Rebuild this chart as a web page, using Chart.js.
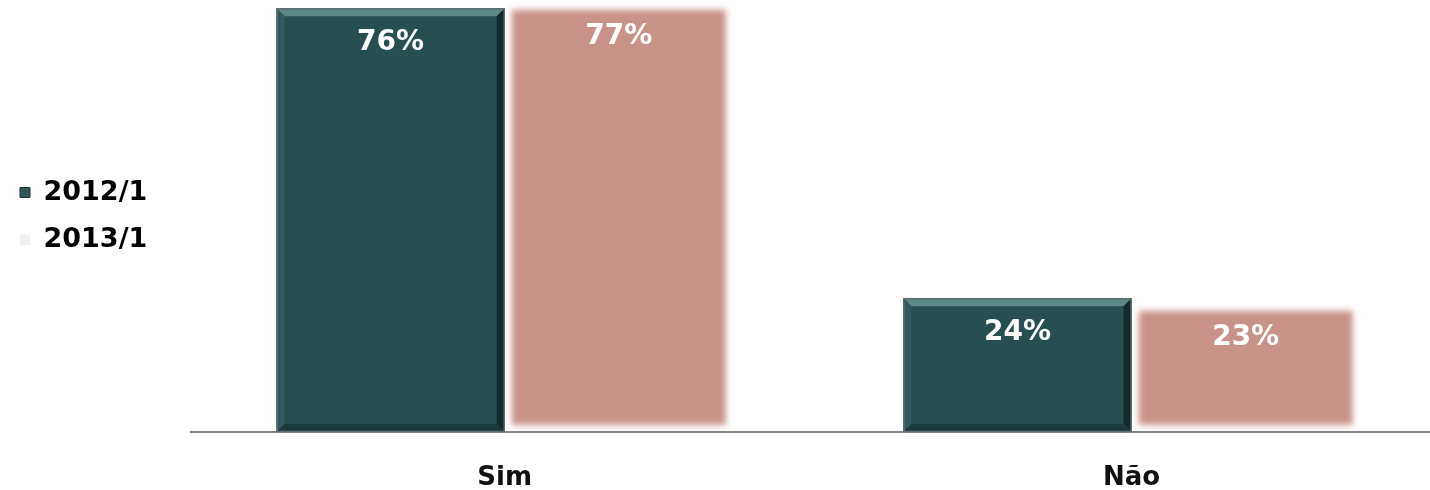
<!DOCTYPE html>
<html>
<head>
<meta charset="utf-8">
<script src="https://cdn.jsdelivr.net/npm/chart.js@4"></script>
<style>
html,body{margin:0;padding:0;background:#fff;overflow:hidden;}
#wrap{width:1445px;height:490px;}
</style>
</head>
<body>
<div id="wrap"><canvas id="chart"></canvas></div>
<script>
// data
const categories=["Sim","Não"];
const seriesNames=["2012/1","2013/1"];
const values2012=[76,24];
const values2013=[77,23];

const DARK="#264f52";
const PINK="#c99289";
const FONT="'DejaVu Sans', Verdana, sans-serif";

function poly(ctx,pts,color){
ctx.beginPath();
ctx.moveTo(pts[0][0],pts[0][1]);
for(let i=1;i<pts.length;i++) ctx.lineTo(pts[i][0],pts[i][1]);
ctx.closePath();
ctx.fillStyle=color;
ctx.fill();
}

// bevel on the dark bars, soft edges on the pink ones, value labels
const barFx={
id:"barFx",
beforeDatasetDraw(chart,args){
if(args.index===1){chart.ctx.save();chart.ctx.filter="blur(3px)";}
},
afterDatasetDraw(chart,args){
const ctx=chart.ctx;
if(args.index===1){ctx.restore();return;}
if(args.index!==0) return;
args.meta.data.forEach(b=>{
const l=b.x-b.width/2,r=b.x+b.width/2,t=b.y,bt=b.base,d=8;
ctx.save();
poly(ctx,[[l,t],[r,t],[r-d,t+d],[l+d,t+d]],"#5c8886");
poly(ctx,[[l,t],[l+d,t+d],[l+d,bt-d],[l,bt]],"#2f5b5c");
poly(ctx,[[r,t],[r,bt],[r-d,bt-d],[r-d,t+d]],"#132a2b");
poly(ctx,[[l,bt],[l+d,bt-d],[r-d,bt-d],[r,bt]],"#1b3a3c");
ctx.strokeStyle="#5f6f6f";
ctx.lineWidth=1.5;
ctx.strokeRect(l+0.5,t+0.5,b.width-1,bt-t-1);
ctx.restore();
});
},
afterDatasetsDraw(chart){
const ctx=chart.ctx;
ctx.save();
ctx.fillStyle="#ffffff";
ctx.font="bold 28px "+FONT;
ctx.textAlign="center";
ctx.textBaseline="middle";
chart.data.datasets.forEach((ds,i)=>{
chart.getDatasetMeta(i).data.forEach((b,j)=>{
ctx.fillText(ds.data[j]+"%",b.x,b.y+34);
});
});
ctx.restore();
}
};

new Chart(document.getElementById("chart"),{
type:"bar",
data:{
labels:categories,
datasets:[
{label:seriesNames[0],data:values2012,backgroundColor:DARK,borderWidth:0,categoryPercentage:0.728,barPercentage:1},
{label:seriesNames[1],data:values2013,backgroundColor:PINK,borderColor:"rgba(0,0,0,0)",borderWidth:7,borderSkipped:false,categoryPercentage:0.728,barPercentage:1}
]
},
options:{
responsive:true,
maintainAspectRatio:false,
animation:false,
layout:{padding:0},
plugins:{
tooltip:{enabled:false},
legend:{
position:"left",
fullSize:false,
labels:{
color:"#111",
font:{family:FONT,size:27,weight:"bold"},
boxWidth:10,boxHeight:10,padding:20,
generateLabels(chart){
return seriesNames.map((n,i)=>({
text:n,
fillStyle:i===0?"#2f5557":"#f2f2f2",
strokeStyle:i===0?"#1a3536":"#f2f2f2",
lineWidth:1,
hidden:false,
datasetIndex:i
}));
}
}
}
},
scales:{
x:{
grid:{display:false,drawTicks:false},
border:{display:true,color:"#888",width:2},
ticks:{color:"#111",font:{family:FONT,size:26,weight:"bold"},padding:31},
afterFit(s){s.height=58;}
},
y:{
min:0,max:77.5,
grid:{display:false},
border:{display:false},
ticks:{display:false},
afterFit(s){s.width=34;}
}
}
},
plugins:[barFx]
});
</script>
</body>
</html>
